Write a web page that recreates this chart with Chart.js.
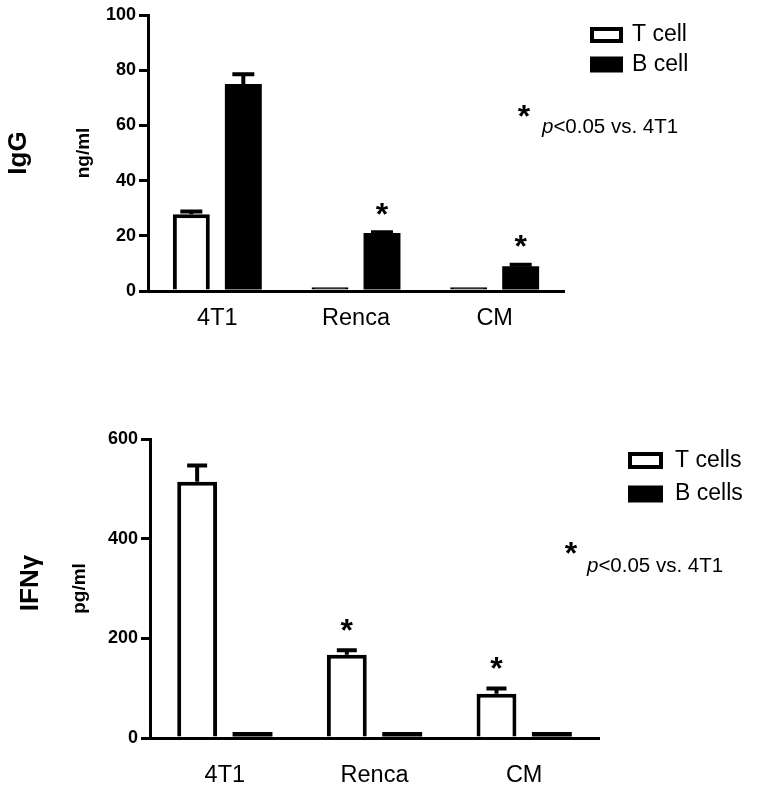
<!DOCTYPE html>
<html><head><meta charset="utf-8">
<script src="https://cdn.jsdelivr.net/npm/chart.js@4"></script>
<style>html,body{margin:0;padding:0;background:#fff;}#wrap{position:relative;width:757px;height:794px;overflow:hidden;}canvas{position:absolute;left:0;}</style>
</head><body><div id="wrap"><canvas id="c1" width="757" height="400" style="top:0"></canvas><canvas id="c2" width="757" height="394" style="top:400px"></canvas></div>
<script>
const categories = ['4T1', 'Renca', 'CM'];

// IgG panel (ng/ml)
const iggTicks = [0, 20, 40, 60, 80, 100];
const iggTcell = [27.8, 1.4, 1.4];
const iggTcellErr = [1.0, 0, 0];
const iggTcellSig = [false, false, false];
const iggBcell = [75, 21, 9];
const iggBcellErr = [3.5, 0.3, 0.5];
const iggBcellSig = [false, true, true];
const iggLegend = ['T cell', 'B cell'];

// IFN-gamma panel (pg/ml)
const ifnTicks = [0, 200, 400, 600];
const ifnTcell = [514, 167, 89];
const ifnTcellErr = [33, 9, 10.5];
const ifnTcellSig = [false, true, true];
const ifnBcell = [12, 12, 12];
const ifnBcellErr = [0, 0, 0];
const ifnBcellSig = [false, false, false];
const ifnLegend = ['T cells', 'B cells'];

const FAM = '"Liberation Sans", Arial, Helvetica, sans-serif';
Chart.defaults.font.family = FAM;
Chart.defaults.color = '#000';

function overlay(o) {
  return {
    id: 'overlay',
    afterDatasetsDraw(chart) {
      const ctx = chart.ctx, y = chart.scales.y;
      ctx.save();
      chart.data.datasets.forEach((ds, di) => {
        const meta = chart.getDatasetMeta(di);
        meta.data.forEach((bar, j) => {
          const e = ds.err[j] || 0;
          const yb = y.getPixelForValue(ds.data[j]);
          const yt = y.getPixelForValue(ds.data[j] + e);
          if (e > 0) {
            ctx.strokeStyle = '#000'; ctx.lineWidth = 4; ctx.lineCap = 'butt';
            ctx.beginPath();
            ctx.moveTo(bar.x, yb); ctx.lineTo(bar.x, yt);
            ctx.moveTo(bar.x - o.cap / 2, yt); ctx.lineTo(bar.x + o.cap / 2, yt);
            ctx.stroke();
          }
          if (ds.sig[j]) {
            const fs = o.starSize;
            ctx.font = 'bold ' + fs + 'px ' + FAM;
            ctx.textAlign = 'center'; ctx.textBaseline = 'alphabetic'; ctx.fillStyle = '#000';
            ctx.fillText('*', bar.x, yt - o.starGap + 0.55 * fs);
          }
        });
      });
      ctx.restore();
    },
    afterDraw(chart) {
      const ctx = chart.ctx;
      ctx.save();
      ctx.fillStyle = '#000';
      // big rotated title
      ctx.translate(o.bigX, o.bigY);
      ctx.rotate(-Math.PI / 2);
      ctx.font = 'bold 26px ' + FAM;
      ctx.textAlign = 'center'; ctx.textBaseline = 'alphabetic';
      ctx.fillText(o.big, 0, 0);
      ctx.setTransform(1, 0, 0, 1, 0, 0);
      // legend
      chart.data.datasets.forEach((ds, i) => {
        const cy = o.legY[i];
        ctx.fillStyle = '#000';
        ctx.fillRect(o.legX, cy - o.legH / 2, o.legW, o.legH);
        if (ds.hollow) {
          ctx.fillStyle = '#fff';
          ctx.fillRect(o.legX + 4, cy - o.legH / 2 + 4, o.legW - 8, o.legH - 8);
        }
        ctx.fillStyle = '#000';
        ctx.font = '23px ' + FAM;
        ctx.textAlign = 'left'; ctx.textBaseline = 'middle';
        ctx.fillText(ds.label, o.legTextX, cy);
      });
      // significance note
      const fs = o.starSize;
      ctx.font = 'bold ' + fs + 'px ' + FAM;
      ctx.textAlign = 'center'; ctx.textBaseline = 'alphabetic';
      ctx.fillText('*', o.noteStarX, o.noteStarY + 0.55 * fs);
      ctx.textAlign = 'left';
      ctx.font = 'italic 20.5px ' + FAM;
      ctx.fillText('p', o.noteX, o.noteBase);
      const pw = ctx.measureText('p').width;
      ctx.font = '20.5px ' + FAM;
      ctx.fillText('<0.05 vs. 4T1', o.noteX + pw, o.noteBase);
      ctx.restore();
    }
  };
}

function build(id, o) {
  return new Chart(document.getElementById(id), {
    type: 'bar',
    data: {
      labels: categories,
      datasets: [
        { label: o.legend[0], data: o.t, err: o.tErr, sig: o.tSig, hollow: true,
          backgroundColor: c => (c.raw !== undefined && c.raw * o.pxPerUnit < 6) ? '#000' : '#fff',
          borderColor: '#000', borderWidth: 4, borderSkipped: 'start', categoryPercentage: o.cp, barPercentage: o.bp },
        { label: o.legend[1], data: o.b, err: o.bErr, sig: o.bSig, hollow: false,
          backgroundColor: '#000', borderWidth: 0, categoryPercentage: o.cp, barPercentage: o.bp }
      ]
    },
    options: {
      responsive: false, animation: false, devicePixelRatio: 1,
      layout: { padding: { left: 0, top: o.top, right: 757 - o.right, bottom: 0 } },
      plugins: { legend: { display: false }, tooltip: { enabled: false } },
      scales: {
        x: {
          grid: { display: false, drawTicks: false },
          border: { color: '#000', width: 3 },
          ticks: { font: { size: 23.5 }, color: '#000', padding: o.xPad },
          afterFit(s) { s.height = o.H - o.bottom; }
        },
        y: {
          min: 0, max: o.ticks[o.ticks.length - 1],
          afterBuildTicks(s) { s.ticks = o.ticks.map(v => ({ value: v })); },
          grid: { drawOnChartArea: false, color: '#000', lineWidth: 3, tickLength: 9 },
          border: { color: '#000', width: 3 },
          ticks: { font: { size: 18, weight: 'bold' }, color: '#000', padding: 3 },
          title: { display: true, text: o.yTitle, font: { size: 19, weight: 'bold' }, color: '#000', padding: { top: o.titlePad, bottom: 0 } },
          afterFit(s) { s.width = o.left; }
        }
      }
    },
    plugins: [overlay(o)]
  });
}

build('c1', {
  H: 400, left: 148, right: 564, top: 15, bottom: 291, xPad: 13, pxPerUnit: 2.76,
  cp: 0.75, bp: 0.71, cap: 22, starSize: 32, starGap: 25,
  t: iggTcell, tErr: iggTcellErr, tSig: iggTcellSig,
  b: iggBcell, bErr: iggBcellErr, bSig: iggBcellSig,
  ticks: iggTicks, legend: iggLegend, yTitle: 'ng/ml', titlePad: 72.6,
  big: 'IgG', bigX: 26, bigY: 153,
  legX: 590, legW: 33, legH: 16, legY: [35, 64.5], legTextX: 632,
  noteStarX: 524, noteStarY: 109, noteX: 542, noteBase: 133
});

build('c2', {
  H: 394, left: 150, right: 599, top: 39, bottom: 338, xPad: 23, pxPerUnit: 0.498,
  cp: 0.74, bp: 0.72, cap: 20, starSize: 32, starGap: 27,
  t: ifnTcell, tErr: ifnTcellErr, tSig: ifnTcellSig,
  b: ifnBcell, bErr: ifnBcellErr, bSig: ifnBcellSig,
  ticks: ifnTicks, legend: ifnLegend, yTitle: 'pg/ml', titlePad: 68.6,
  big: 'IFNγ', bigX: 38, bigY: 183,
  legX: 628, legW: 35, legH: 17, legY: [60.5, 94], legTextX: 675,
  noteStarX: 571, noteStarY: 146, noteX: 587, noteBase: 172
});
</script></body></html>
